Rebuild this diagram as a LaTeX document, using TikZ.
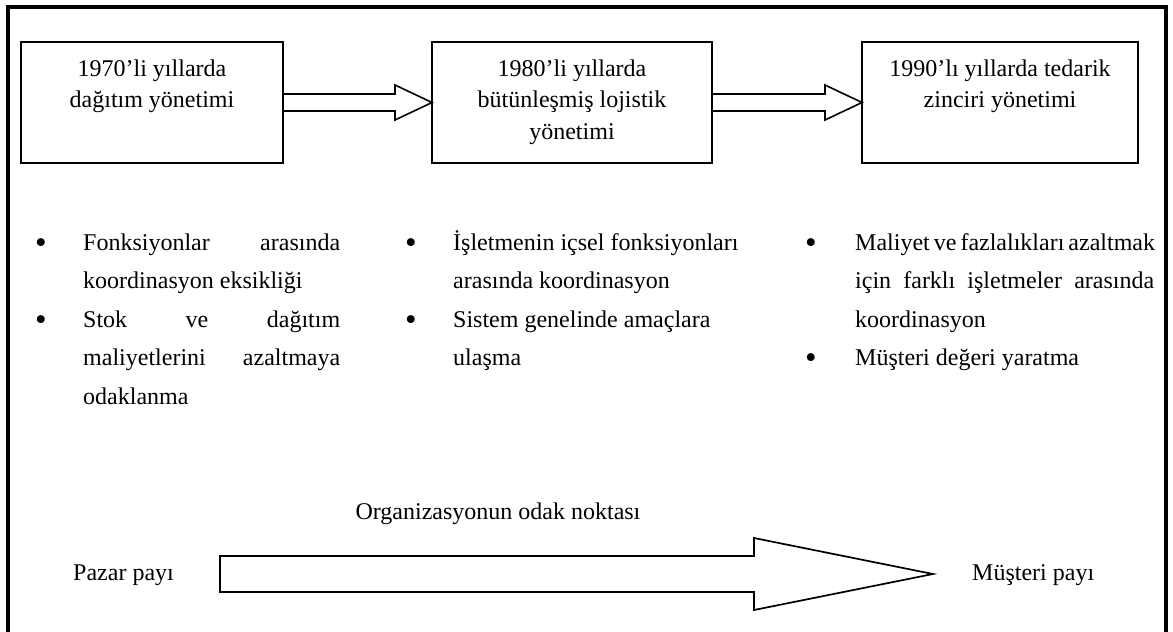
\documentclass[tikz,border=0pt]{standalone}
\usepackage{fontspec}
\setmainfont{Liberation Serif}
\begin{document}
\begin{tikzpicture}[x=1pt,y=-1pt,
  yearbox/.style={draw, line width=1.3pt, inner sep=0pt, outer sep=0pt, minimum height=121pt},
  % multi-line nodes: the base anchor sits on the last line
  yeartext/.style={anchor=base, inner sep=0pt, align=center, font=\fontsize{24}{31.5}\selectfont},
  itemtext/.style={anchor=base west, inner sep=0pt, align=left, font=\fontsize{24}{38.5}\selectfont},
  dot/.style={anchor=base, inner sep=0pt, yshift=-3pt, font=\fontsize{33}{38.5}\selectfont},
  plain/.style={inner sep=0pt, font=\fontsize{24}{30}\selectfont},
  arrowline/.style={draw, line width=1.6pt, line join=miter},
  bigarrow/.style={draw, line width=1.7pt, line join=miter}
]
\useasboundingbox (0,0) rectangle (1173,632);
\fill[white] (0,0) rectangle (1173,632);

% outer frame (open at the bottom edge of the page)
\draw[line width=4pt] (8,650) -- (8,7) -- (1166,7) -- (1166,650);

% three periods
\node[yearbox, minimum width=262pt] (b1) at (152,102.5) {};
\node[yearbox, minimum width=280pt] (b2) at (572,102.5) {};
\node[yearbox, minimum width=276pt] (b3) at (1000,102.5) {};
\node[yeartext] (t1) at (152,107.5) {1970’li yıllarda\\dağıtım yönetimi};
\node[yeartext] (t2) at (572,139) {1980’li yıllarda\\bütünleşmiş lojistik\\yönetimi};
\node[yeartext] (t3) at (1000,107.5) {1990’lı yıllarda tedarik\\zinciri yönetimi};

% hollow arrows between the periods
\draw[arrowline] ([yshift=8.5pt]b1.east) -- ([xshift=-37pt,yshift=8.5pt]b2.west)
  -- ([xshift=-37pt,yshift=17.5pt]b2.west) -- (b2.west)
  -- ([xshift=-37pt,yshift=-17.5pt]b2.west) -- ([xshift=-37pt,yshift=-8.5pt]b2.west)
  -- ([yshift=-8.5pt]b1.east);
\draw[arrowline] ([yshift=8.5pt]b2.east) -- ([xshift=-37pt,yshift=8.5pt]b3.west)
  -- ([xshift=-37pt,yshift=17.5pt]b3.west) -- (b3.west)
  -- ([xshift=-37pt,yshift=-17.5pt]b3.west) -- ([xshift=-37pt,yshift=-8.5pt]b3.west)
  -- ([yshift=-8.5pt]b2.east);

% characteristics of each period
\node[dot] (d11) at (41,250) {•};
\node[itemtext] (i11) at (83,288.5) {\makebox[257pt][s]{Fonksiyonlar\hfill arasında}\\koordinasyon eksikliği};
\node[dot] (d12) at (41,327) {•};
\node[itemtext] (i12) at (83,404) {\makebox[257pt][s]{Stok\hfill ve\hfill dağıtım}\\\makebox[257pt][s]{maliyetlerini\hfill azaltmaya}\\odaklanma};

\node[dot] (d21) at (411,250) {•};
\node[itemtext] (i21) at (453,288.5) {İşletmenin içsel fonksiyonları\\arasında koordinasyon};
\node[dot] (d22) at (411,327) {•};
\node[itemtext] (i22) at (453,365.5) {Sistem genelinde amaçlara\\ulaşma};

\node[dot] (d31) at (811,250) {•};
\node[itemtext] (i31) at (855,327) {\makebox[299pt][s]{Maliyet ve fazlalıkları azaltmak}\\\makebox[299pt][s]{için\hfill farklı\hfill işletmeler\hfill arasında}\\koordinasyon};
\node[dot] (d32) at (811,365.5) {•};
\node[itemtext] (i32) at (855,365.5) {Müşteri değeri yaratma};

% shift of the organisation's focus
\node[plain, anchor=base] (focus) at (498,519) {Organizasyonun odak noktası};
\node[plain, anchor=base west] (pp) at (73,580) {Pazar payı};
\node[plain, anchor=base west] (mp) at (972,580) {Müşteri payı};
\coordinate (tail) at (220,574);
\coordinate (tip) at (933,574);
\draw[bigarrow] ([yshift=18pt]tail) -- ([xshift=-179pt,yshift=18pt]tip)
  -- ([xshift=-179pt,yshift=36pt]tip) -- (tip)
  -- ([xshift=-179pt,yshift=-36pt]tip) -- ([xshift=-179pt,yshift=-18pt]tip)
  -- ([yshift=-18pt]tail) -- cycle;
\end{tikzpicture}
\end{document}
